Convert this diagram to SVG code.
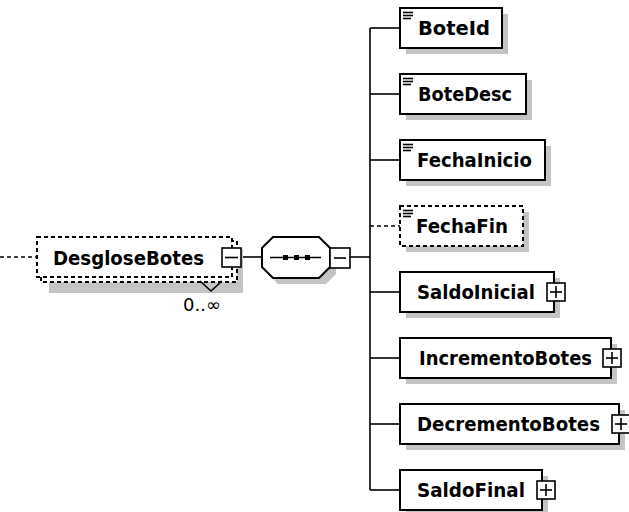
<svg xmlns="http://www.w3.org/2000/svg" width="629" height="512" viewBox="0 0 629 512">
  <defs>
    <style>
      .box { fill: #ffffff; stroke: #000000; stroke-width: 2; }
      .dash { stroke-dasharray: 4 3; }
      .shadow { fill: #c4c4c4; stroke: none; }
      .wire { fill: none; stroke: #000000; stroke-width: 1.6; }
      .lbl { font-family: "DejaVu Sans", Verdana, sans-serif; font-weight: bold; font-size: 20px; fill: #000000; }
      .occ { font-family: "DejaVu Sans", Verdana, sans-serif; font-size: 18px; fill: #000000; }
      .btn { fill: #ffffff; stroke: #000000; stroke-width: 1.6; }
      .glyph { fill: none; stroke: #000000; stroke-width: 1.6; }
      .icon { stroke: #000000; stroke-width: 1.6; }
    </style>
    <!-- simple-content marker: three short lines at the top-left corner -->
    <g id="simpleIcon">
      <line class="icon" x1="3" y1="4.5" x2="13" y2="4.5"/>
      <line class="icon" x1="3" y1="7.5" x2="13" y2="7.5"/>
      <line class="icon" x1="3" y1="10.5" x2="11" y2="10.5"/>
    </g>
    <!-- expand button (plus) -->
    <g id="plusBtn">
      <rect class="btn" x="-9" y="-9" width="18" height="18"/>
      <line class="glyph" x1="-6" y1="0" x2="6" y2="0"/>
      <line class="glyph" x1="0" y1="-6" x2="0" y2="6"/>
    </g>
  </defs>

  <!-- connectors -->
  <g id="connectors">
    <line class="wire dash" x1="0" y1="257" x2="37" y2="257"/>
    <line class="wire" x1="241" y1="257" x2="262" y2="257"/>
    <line class="wire" x1="350" y1="257" x2="370" y2="257"/>
    <line class="wire" x1="370" y1="28" x2="370" y2="490"/>
    <line class="wire" x1="370" y1="28" x2="400" y2="28"/>
    <line class="wire" x1="370" y1="94" x2="400" y2="94"/>
    <line class="wire" x1="370" y1="160" x2="400" y2="160"/>
    <line class="wire dash" x1="370" y1="226" x2="400" y2="226"/>
    <line class="wire" x1="370" y1="292" x2="400" y2="292"/>
    <line class="wire" x1="370" y1="358" x2="400" y2="358"/>
    <line class="wire" x1="370" y1="424" x2="400" y2="424"/>
    <line class="wire" x1="370" y1="490" x2="400" y2="490"/>
  </g>

  <!-- DesgloseBotes (repeating, optional) -->
  <g id="DesgloseBotes">
    <rect class="shadow" x="49" y="249" width="194" height="44"/>
    <rect class="box dash" x="41" y="241" width="196" height="41"/>
    <rect class="box dash" x="37" y="237" width="195" height="40"/>
    <polyline class="wire" points="200,281 211,291 222,281"/>
    <text class="lbl" x="53" y="265" textLength="151" lengthAdjust="spacingAndGlyphs">DesgloseBotes</text>
    <rect class="btn" x="222" y="248" width="19" height="19"/>
    <line class="glyph" x1="225" y1="257.5" x2="238" y2="257.5"/>
    <text class="occ" x="221" y="311" text-anchor="end">0..∞</text>
  </g>

  <!-- sequence compositor -->
  <g id="sequence">
    <polygon class="shadow" points="278,243 326,243 336,253 336,274 326,284 278,284 268,274 268,253"/>
    <polygon class="box" points="273,237 319,237 330,248 330,267 319,278 273,278 262,267 262,248"/>
    <line class="wire" x1="270" y1="257.5" x2="321" y2="257.5"/>
    <rect x="283" y="255" width="5" height="5" fill="#000000"/>
    <rect x="294" y="255" width="5" height="5" fill="#000000"/>
    <rect x="305" y="255" width="5" height="5" fill="#000000"/>
    <rect class="btn" x="330" y="248" width="20" height="20"/>
    <line class="glyph" x1="334" y1="258" x2="346" y2="258"/>
  </g>

  <!-- child elements -->
  <g id="BoteId">
    <rect class="shadow" x="406" y="14" width="102" height="40"/>
    <rect class="box" x="400" y="8" width="102" height="40"/>
    <use href="#simpleIcon" x="400" y="8"/>
    <text class="lbl" x="418" y="35" textLength="72" lengthAdjust="spacingAndGlyphs">BoteId</text>
  </g>

  <g id="BoteDesc">
    <rect class="shadow" x="406" y="80" width="126" height="40"/>
    <rect class="box" x="400" y="74" width="126" height="40"/>
    <use href="#simpleIcon" x="400" y="74"/>
    <text class="lbl" x="418" y="101" textLength="94" lengthAdjust="spacingAndGlyphs">BoteDesc</text>
  </g>

  <g id="FechaInicio">
    <rect class="shadow" x="406" y="146" width="145" height="40"/>
    <rect class="box" x="400" y="140" width="145" height="40"/>
    <use href="#simpleIcon" x="400" y="140"/>
    <text class="lbl" x="417" y="167" textLength="115" lengthAdjust="spacingAndGlyphs">FechaInicio</text>
  </g>

  <g id="FechaFin">
    <rect class="shadow" x="406" y="212" width="123" height="40"/>
    <rect class="box dash" x="400" y="206" width="123" height="40"/>
    <use href="#simpleIcon" x="400" y="206"/>
    <text class="lbl" x="416" y="233" textLength="92" lengthAdjust="spacingAndGlyphs">FechaFin</text>
  </g>

  <g id="SaldoInicial">
    <rect class="shadow" x="406" y="278" width="154" height="40"/>
    <rect class="box" x="400" y="272" width="154" height="40"/>
    <text class="lbl" x="417" y="299" textLength="118" lengthAdjust="spacingAndGlyphs">SaldoInicial</text>
    <use href="#plusBtn" x="556" y="292"/>
  </g>

  <g id="IncrementoBotes">
    <rect class="shadow" x="406" y="344" width="211" height="40"/>
    <rect class="box" x="400" y="338" width="211" height="40"/>
    <text class="lbl" x="419" y="365" textLength="173" lengthAdjust="spacingAndGlyphs">IncrementoBotes</text>
    <use href="#plusBtn" x="612" y="358"/>
  </g>

  <g id="DecrementoBotes">
    <rect class="shadow" x="406" y="410" width="219" height="40"/>
    <rect class="box" x="400" y="404" width="219" height="40"/>
    <text class="lbl" x="417" y="431" textLength="183" lengthAdjust="spacingAndGlyphs">DecrementoBotes</text>
    <use href="#plusBtn" x="621" y="424"/>
  </g>

  <g id="SaldoFinal">
    <rect class="shadow" x="406" y="476" width="142" height="40"/>
    <rect class="box" x="400" y="470" width="142" height="40"/>
    <text class="lbl" x="417" y="497" textLength="108" lengthAdjust="spacingAndGlyphs">SaldoFinal</text>
    <use href="#plusBtn" x="546" y="490"/>
  </g>
</svg>
